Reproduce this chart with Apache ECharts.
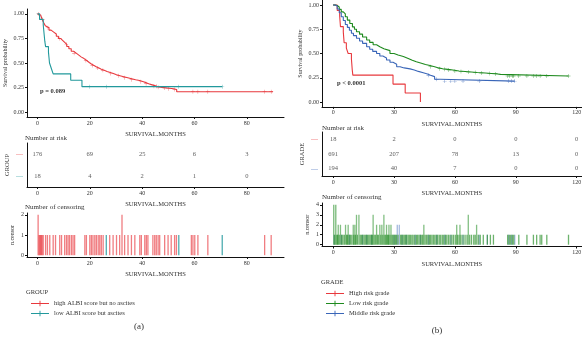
<!DOCTYPE html>
<html>
<head>
<meta charset="utf-8">
<script src="https://cdn.jsdelivr.net/npm/echarts@6/dist/echarts.min.js"></script>
<style>html,body{margin:0;padding:0;background:#fff}#cn{width:582px;height:337px}</style>
</head>
<body>
<div id="cn"></div>
<script>
'use strict';

const FONT = 'Liberation Serif';
const RED = '#E8383D', TEAL = '#22999C', GREEN = '#1E8A1E', BLUE = '#3A66B8';

// panel (a): KM steps [month, survival]
const kmHighAlbi = [[0,1],[0.6,0.989],[1.2,0.972],[1.8,0.943],[2.4,0.91],[3,0.88],[3.6,0.86],[4.4,0.835],[5.2,0.815],[6.2,0.795],[7.2,0.772],[8,0.75],[8.8,0.73],[9.6,0.71],[10.4,0.69],[11.2,0.668],[12,0.645],[12.9,0.62],[13.8,0.6],[14.8,0.58],[15.8,0.56],[16.8,0.545],[17.8,0.525],[18.8,0.505],[19.8,0.49],[20.6,0.475],[21.6,0.46],[22.6,0.448],[23.5,0.436],[24.4,0.426],[25.5,0.414],[26.6,0.404],[27.8,0.392],[29,0.38],[30.2,0.37],[31.5,0.36],[33,0.35],[34.5,0.34],[36,0.33],[37.5,0.322],[39,0.31],[40.5,0.3],[41.5,0.288],[42.5,0.28],[43.5,0.272],[44.5,0.262],[45.6,0.252],[47.5,0.245],[49.8,0.238],[52,0.23],[53.2,0.207],[90,0.207]];
const kmLowAlbi = [[0,1],[0.8,0.944],[2.2,0.889],[2.4,0.833],[2.6,0.778],[2.8,0.722],[3.1,0.667],[4.2,0.611],[4.4,0.556],[4.6,0.5],[5.3,0.444],[6,0.389],[12.7,0.324],[17,0.259],[70.6,0.259]];
const marksHighAlbi = [[0.3,1],[2,0.943],[4,0.86],[8.5,0.75],[11,0.69],[14,0.6],[18.5,0.525],[21,0.475],[23,0.448],[25,0.426],[28,0.392],[31,0.37],[33.3,0.35],[36,0.33],[39.5,0.31],[41.5,0.288],[44.5,0.262],[45.4,0.262],[46.1,0.252],[48.6,0.245],[50,0.238],[52.4,0.23],[59.4,0.207],[61.3,0.207],[65.1,0.207],[86.8,0.207],[89.3,0.207]];
const marksLowAlbi = [[20,0.259],[26.3,0.259],[54,0.259],[70.6,0.259]];

const riskTimesA = [0, 20, 40, 60, 80];
const riskHighAlbi = [176, 69, 25, 6, 3];
const riskLowAlbi = [18, 4, 2, 1, 0];

const censorHighAlbi1 = [0.6,0.9,1.2,1.5,1.8,2.2,3.1,3.8,4.7,6,6.9,8.5,9.2,10.4,11.1,11.7,12.3,13,13.6,14.2,18.1,18.7,20,20.6,21.2,21.9,22.5,23.2,23.8,24.4,25.1,27.6,28.9,30.2,31.4,33.3,34.6,35.9,37.2,39.1,39.7,41,41.6,42.2,44.1,44.8,45.4,46.1,46.7,48.6,49.9,51.1,52.4,53.1,58.8,59.4,60.1,61.3,65.1,86.8,89.3];
const censorHighAlbi2 = [0.25, 32.3];
const censorLowAlbi1 = [26.3, 54, 70.6];

// panel (b)
const kmHighGrade = [[0,1],[2,0.944],[3.2,0.889],[3.4,0.833],[3.6,0.778],[5,0.722],[5.2,0.667],[5.4,0.611],[6.5,0.556],[7.4,0.5],[9,0.444],[9.2,0.389],[9.4,0.333],[9.7,0.278],[29.5,0.185],[35.5,0.093],[43,0]];
const kmLowGrade = [[0,1],[1,0.995],[2,0.98],[3,0.955],[4,0.93],[5,0.91],[6,0.88],[7,0.845],[8.2,0.81],[9.5,0.775],[10.5,0.75],[11.5,0.725],[13,0.7],[14.5,0.67],[16.5,0.64],[18,0.615],[19.7,0.59],[21.4,0.57],[23,0.55],[25,0.53],[28,0.5],[30,0.485],[32,0.47],[34.6,0.45],[37,0.432],[39,0.415],[41,0.4],[43.5,0.387],[45.5,0.376],[47.7,0.364],[50,0.352],[52,0.344],[54,0.337],[56.5,0.33],[59,0.32],[62,0.315],[65,0.31],[68,0.305],[71,0.3],[75,0.295],[78,0.29],[81,0.285],[82.5,0.268],[116,0.268]];
const kmMiddleGrade = [[0,1],[1,0.99],[2,0.96],[3,0.92],[4,0.88],[5,0.84],[6,0.8],[7,0.77],[8,0.74],[9,0.71],[10,0.685],[11.5,0.657],[13,0.63],[14.5,0.605],[16.5,0.57],[18,0.545],[19.5,0.522],[21.4,0.5],[23,0.475],[24.5,0.455],[26.3,0.433],[28,0.41],[29.5,0.39],[31.3,0.364],[33,0.352],[35,0.342],[37.9,0.33],[40,0.316],[42,0.302],[44.4,0.289],[46.5,0.277],[48,0.262],[50,0.235],[52.8,0.216],[89.5,0.216]];
const marksLowGrade = [[48,0.364],[52.5,0.344],[55,0.337],[57,0.33],[60,0.32],[63,0.315],[66.6,0.31],[70,0.305],[73,0.3],[77,0.295],[80,0.29],[86,0.268],[87,0.268],[88.3,0.268],[89,0.268],[91.5,0.268],[95.5,0.268],[98.7,0.268],[100.3,0.268],[102,0.268],[105.3,0.268],[116,0.268]];
const marksMiddleGrade = [[47,0.277],[51,0.235],[55,0.216],[58,0.216],[60,0.216],[64,0.216],[72,0.216],[86.5,0.216],[88,0.216],[89.5,0.216]];

const riskTimesB = [0, 30, 60, 90, 120];
const riskHighGrade = [18, 2, 0, 0, 0];
const riskLowGrade = [691, 207, 78, 13, 0];
const riskMiddleGrade = [194, 40, 7, 0, 0];

const censorLowGrade1 = [0.8,1.8,2.2,3,4.2,4.8,5.5,6.6,7,7.9,8.5,9.2,10.2,11,12,13.3,13.9,14.5,15.2,15.8,16.4,17,17.6,18.2,18.8,19.3,20.2,20.8,21.8,22.4,23.5,24.5,25.5,26,26.8,27.2,28,29,29.5,30.1,30.7,31.2,32,33.2,33.8,34.4,35,35.6,36.2,36.9,37.5,38.1,38.8,39.4,40.2,41,41.6,42.3,43,43.7,44.2,45.3,46,46.7,47.4,48,48.7,49.4,50.1,50.8,51.5,52.3,53,53.8,54.5,55.3,56,56.8,57.6,58.5,59.3,60.2,61.2,62,63,64,65,66,67.3,68.2,69.3,70,71.5,72.5,74,76,77.5,79,86,86.8,87.5,88.3,89,91.5,95.5,98.7,100.3,102,102.8,105.3,116];
const censorLowGrade2 = [2.5,3.6,6.1,7.4,9.9,10.7,21.4,23,24,26.3,27.5,28.5,44.7,60.9,62.5,70.7];
const censorLowGrade3 = [11.5,12.7,19.7,25,66.6];
const censorLowGrade4 = [0.3,1.3];
const censorMiddleGrade1 = [0.5,4,8,14.5,16.5,19,30,34,36,40.5,43,47,51,55,58,64,72,76,86.5,88,89.5];
const censorMiddleGrade2 = [31.6,32.6];

const CROSS = 'path://M0,4.5H10V5.5H0Z M4.5,0H5.5V10H4.5Z';
const LEGEND_ICON = 'path://M0,4.5H20V5.5H0Z M9.5,2H10.5V8H9.5Z';

const txt = (size, bold) => ({fontFamily: FONT, fontSize: size, color: '#333', fontWeight: bold ? 'bold' : 'normal'});
const tick = (vals) => ({show: true, length: 2, lineStyle: {color: '#111'}, customValues: vals});
const LINE = {show: true, onZero: false, lineStyle: {color: '#111', width: 1}};

const monthAxis = (grid, min, max, ticks) => ({
    type: 'value', gridIndex: grid, min: min, max: max,
    axisLine: LINE, axisTick: tick(ticks), splitLine: {show: false},
    axisLabel: Object.assign({margin: 3, customValues: ticks}, txt(6)),
    name: 'SURVIVAL.MONTHS', nameLocation: 'middle', nameGap: 14, nameTextStyle: txt(6.5)
});

const survAxis = (grid) => ({
    type: 'value', gridIndex: grid, min: -0.05, max: 1.05,
    axisLine: LINE, axisTick: tick([0, 0.25, 0.5, 0.75, 1]), splitLine: {show: false},
    axisLabel: Object.assign({margin: 3, customValues: [0, 0.25, 0.5, 0.75, 1], formatter: v => v.toFixed(2)}, txt(6)),
    name: 'Survival probability', nameLocation: 'middle', nameRotate: 90, nameGap: 19, nameTextStyle: txt(6)
});

const riskAxis = (grid, cats, colors, title) => ({
    type: 'category', gridIndex: grid, data: cats, inverse: true,
    axisLine: LINE, axisTick: {show: false}, splitLine: {show: false},
    axisLabel: {margin: 4, formatter: (v, i) => '{c' + i + '|—}',
        rich: Object.fromEntries(colors.map((c, i) => ['c' + i, {color: c, fontSize: 7, fontFamily: FONT}]))},
    name: title, nameLocation: 'middle', nameRotate: 90, nameGap: 16, nameTextStyle: txt(6.5)
});

const censorAxis = (grid, max, ticks) => ({
    type: 'value', gridIndex: grid, min: -max * 0.05 / 1.1, max: max + max * 0.05 / 1.1,
    axisLine: LINE, axisTick: tick(ticks), splitLine: {show: false},
    axisLabel: Object.assign({margin: 3, customValues: ticks}, txt(6)),
    name: 'n.censor', nameLocation: 'middle', nameRotate: 90, nameGap: 12, nameTextStyle: txt(6)
});

const kmLine = (name, data, color, ax) => ({
    name: name, type: 'line', step: 'end', data: data, xAxisIndex: ax, yAxisIndex: ax,
    showSymbol: false, color: color, lineStyle: {width: 1.1, color: color}, silent: true
});
const kmMarks = (name, data, color, ax) => ({
    name: name, type: 'scatter', data: data, xAxisIndex: ax, yAxisIndex: ax,
    symbol: CROSS, symbolSize: 4, itemStyle: {color: color}, silent: true
});
const riskRow = (ax, row, times, counts) => ({
    type: 'scatter', xAxisIndex: ax, yAxisIndex: ax, symbolSize: 1,
    itemStyle: {color: 'rgba(0,0,0,0)'}, silent: true,
    data: times.map((t, i) => [t, row, counts[i]]),
    label: Object.assign({show: true, position: 'inside', formatter: p => p.value[2]}, txt(6.5))
});
const censorBars = (ax, times, n, color, op) => ({
    type: 'bar', xAxisIndex: ax, yAxisIndex: ax, barWidth: 1.3, silent: true, barGap: '-100%',
    data: times.map(t => [t, n]), itemStyle: {color: color, opacity: op}
});

const ticksA = [0, 20, 40, 60, 80];
const ticksB = [0, 30, 60, 90, 120];
const LA = 27, WA = 257, LB = 322, WB = 259.7;

const nameA1 = 'high ALBI score but no ascites', nameA2 = 'low ALBI score but ascites';
const nameB1 = 'High risk grade', nameB2 = 'Low risk grade', nameB3 = 'Middle risk grade';

const textAt = (x, y, s, size, opts) => ({
    type: 'text', x: x, y: y, silent: true,
    style: Object.assign({text: s, fill: '#333', fontFamily: FONT, fontSize: size, verticalAlign: 'middle'}, opts || {})
});

const chart = echarts.init(document.getElementById('cn'));

chart.setOption({
    animation: false,
    backgroundColor: '#fff',
    grid: [
        {left: LA, top: 9, width: WA, height: 108, outerBoundsMode: 'none'},
        {left: LA, top: 143, width: WA, height: 44, outerBoundsMode: 'none'},
        {left: LA, top: 213, width: WA, height: 44, outerBoundsMode: 'none'},
        {left: LB, top: 0.2, width: WB, height: 106.7, outerBoundsMode: 'none'},
        {left: LB, top: 132, width: WB, height: 44, outerBoundsMode: 'none'},
        {left: LB, top: 203, width: WB, height: 43.5, outerBoundsMode: 'none'}
    ],
    xAxis: [
        monthAxis(0, -4, 94.2, ticksA),
        monthAxis(1, -4, 94.2, ticksA),
        monthAxis(2, -4, 94.2, ticksA),
        monthAxis(3, -5.5, 122.5, ticksB),
        monthAxis(4, -5.5, 122.5, ticksB),
        monthAxis(5, -5.5, 122.5, ticksB)
    ],
    yAxis: [
        survAxis(0),
        riskAxis(1, ['high', 'low'], [RED, TEAL], 'GROUP'),
        censorAxis(2, 2, [0, 1, 2]),
        survAxis(3),
        riskAxis(4, ['high', 'low', 'middle'], [RED, GREEN, BLUE], 'GRADE'),
        censorAxis(5, 4, [0, 1, 2, 3, 4])
    ],
    legend: [
        {left: 26, top: 295, orient: 'vertical', itemWidth: 18, itemHeight: 6, itemGap: 3,
            icon: LEGEND_ICON, textStyle: txt(6.5), data: [nameA1, nameA2], selectedMode: false},
        {left: 321, top: 285, orient: 'vertical', itemWidth: 18, itemHeight: 6, itemGap: 3,
            icon: LEGEND_ICON, textStyle: txt(6.5), data: [nameB1, nameB2, nameB3], selectedMode: false}
    ],
    graphic: [
        textAt(25, 138, 'Number at risk', 7),
        textAt(25, 207, 'Number of censoring', 7),
        textAt(40, 91, 'p = 0.089', 6.5, {fontWeight: 'bold'}),
        textAt(26, 292, 'GROUP', 6.5),
        textAt(139, 327, '(a)', 9, {align: 'center'}),
        textAt(322, 128, 'Number at risk', 7),
        textAt(322, 197, 'Number of censoring', 7),
        textAt(337, 83, 'p < 0.0001', 6.5, {fontWeight: 'bold'}),
        textAt(321, 282, 'GRADE', 6.5),
        textAt(437, 331, '(b)', 9, {align: 'center'})
    ],
    series: [
        kmLine(nameA1, kmHighAlbi, RED, 0),
        kmLine(nameA2, kmLowAlbi, TEAL, 0),
        kmMarks('mA1', marksHighAlbi, RED, 0),
        kmMarks('mA2', marksLowAlbi, TEAL, 0),
        riskRow(1, 0, riskTimesA, riskHighAlbi),
        riskRow(1, 1, riskTimesA, riskLowAlbi),
        censorBars(2, censorHighAlbi1, 1, RED, 0.65),
        censorBars(2, censorHighAlbi2, 2, RED, 0.65),
        censorBars(2, censorLowAlbi1, 1, TEAL, 0.8),

        kmLine(nameB1, kmHighGrade, RED, 3),
        kmLine(nameB2, kmLowGrade, GREEN, 3),
        kmLine(nameB3, kmMiddleGrade, BLUE, 3),
        kmMarks('mB2', marksLowGrade, GREEN, 3),
        kmMarks('mB3', marksMiddleGrade, BLUE, 3),
        riskRow(4, 0, riskTimesB, riskHighGrade),
        riskRow(4, 1, riskTimesB, riskLowGrade),
        riskRow(4, 2, riskTimesB, riskMiddleGrade),
        censorBars(5, censorMiddleGrade1, 1, BLUE, 0.45),
        censorBars(5, censorMiddleGrade2, 2, BLUE, 0.45),
        censorBars(5, censorLowGrade1, 1, GREEN, 0.65),
        censorBars(5, censorLowGrade2, 2, GREEN, 0.55),
        censorBars(5, censorLowGrade3, 3, GREEN, 0.55),
        censorBars(5, censorLowGrade4, 4, GREEN, 0.6)
    ]
});
</script>
</body>
</html>
